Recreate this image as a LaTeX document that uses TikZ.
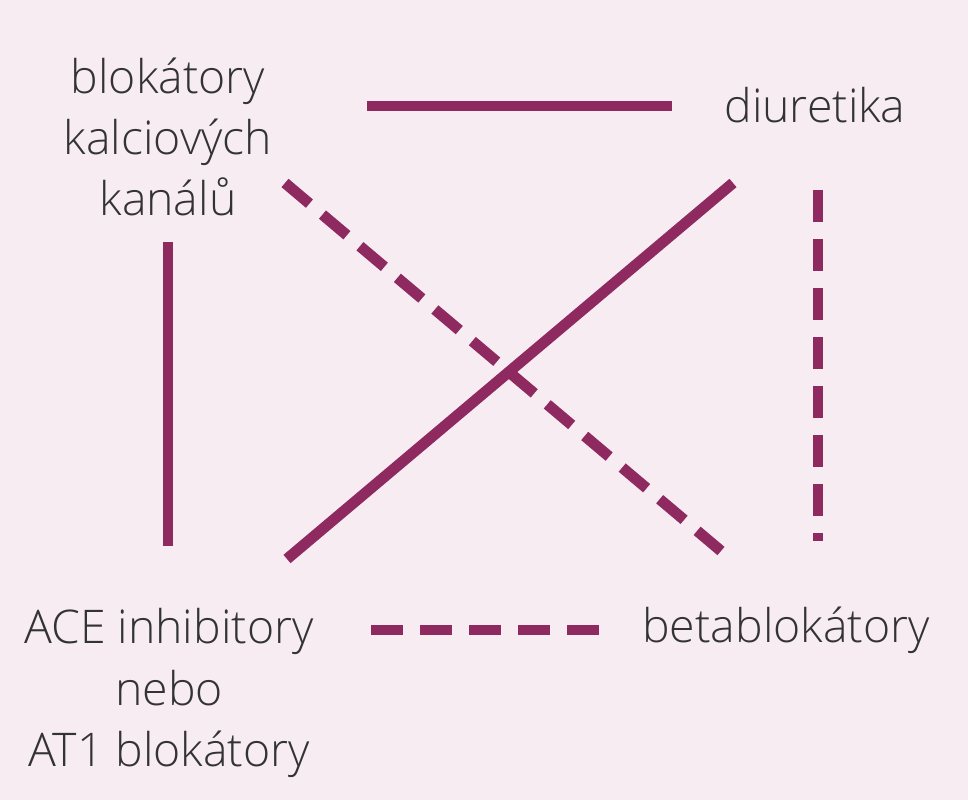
\documentclass[tikz,border=0pt]{standalone}
\usepackage{fontspec}
\setmainfont{Open Sans}[UprightFont=* Light]
\definecolor{bg}{HTML}{F6ECF1}
\definecolor{wine}{HTML}{8E2A5F}
\definecolor{ink}{HTML}{333333}
\tikzset{
  lbl/.style={align=center,inner sep=0pt,text=ink,font=\fontsize{13.2}{17.4}\selectfont},
  combo/.style={draw=wine,line width=3.1pt},
  weak/.style={combo,dash pattern=on 9.1pt off 4.85pt}
}

\begin{document}
\begin{tikzpicture}[x=0.1mm,y=-0.1mm]
\fill[bg] (0,0) rectangle (968,800);
\node[lbl] (bkk) at (168,137) {blokátory\\kalciových\\kanálů};
\node[lbl,anchor=base] (diu) at (815,123) {diuretika};
\node[lbl] (ace) at (169,693) {ACE inhibitory\\nebo\\AT1 blokátory};
\node[lbl,anchor=base] (bb) at (786,643) {betablokátory};
% line ends
\coordinate (bkk-e) at (367,106);
\coordinate (diu-w) at (672,106);
\coordinate (bkk-s) at (168,242);
\coordinate (ace-n) at (168,546);
\coordinate (ace-ne) at (287,559);
\coordinate (diu-sw) at (733,183);
\coordinate (bkk-se) at (285,183);
\coordinate (bb-nw) at (721,551);
\coordinate (diu-s) at (818,190);
\coordinate (bb-n) at (818,541);
\coordinate (ace-e) at (371,630);
\coordinate (bb-w) at (600,630);
\draw[combo] (bkk-e) -- (diu-w);
\draw[combo] (bkk-s) -- (ace-n);
\draw[combo] (ace-ne) -- (diu-sw);
\draw[weak] (bkk-se) -- (bb-nw);
\draw[weak] (diu-s) -- (bb-n);
\draw[weak] (ace-e) -- (bb-w);
\end{tikzpicture}
\end{document}
